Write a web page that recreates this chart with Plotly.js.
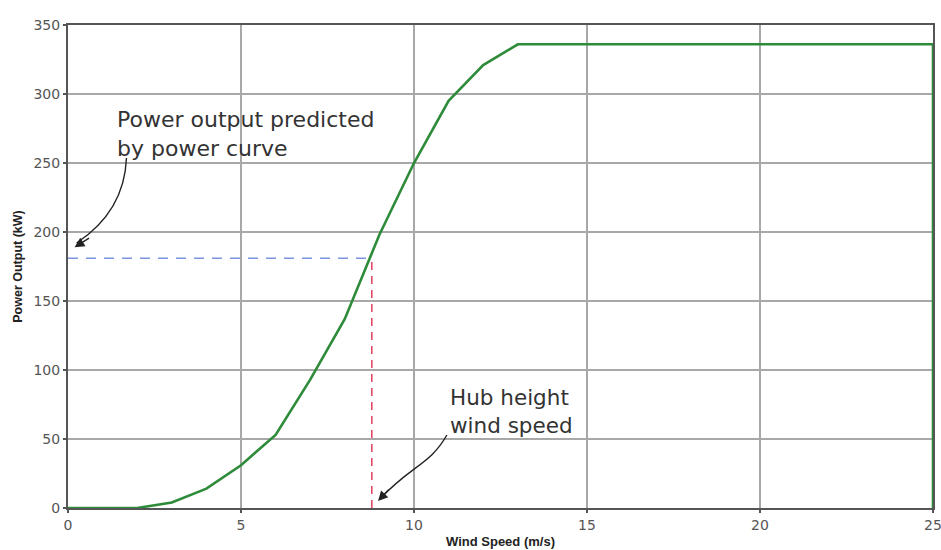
<!DOCTYPE html>
<html>
<head>
<meta charset="utf-8">
<script src="https://cdn.plot.ly/plotly-3.0.1.min.js"></script>
<style>
html,body{margin:0;padding:0;background:#fff;}
#chart{width:941px;height:550px;}
</style>
</head>
<body>
<div id="chart"></div>
<script>
// Power curve data (wind speed m/s, power kW)
var windSpeed = [0, 1, 2, 3, 4, 5, 6, 7, 8, 9, 10, 11, 12, 13, 25, 25];
var powerOutput = [0, 0, 0, 4, 14, 31, 53, 93, 137, 198, 250, 295, 321, 336, 336, 0];

// Hub height wind speed and predicted power
var hubSpeed = 8.78;
var predictedPower = 181;

var xTicks = [0, 5, 10, 15, 20, 25];
var yTicks = [0, 50, 100, 150, 200, 250, 300, 350];

var annoFont = {family: 'DejaVu Sans, Verdana, sans-serif', color: '#333'};

var traces = [
  {
    x: [0, hubSpeed], y: [predictedPower, predictedPower],
    mode: 'lines', line: {color: '#7b93e0', width: 1.6, dash: '10px,8px'},
    hoverinfo: 'skip', showlegend: false
  },
  {
    x: [hubSpeed, hubSpeed], y: [0, predictedPower],
    mode: 'lines', line: {color: '#e34a6a', width: 1.6, dash: '8px,6px'},
    hoverinfo: 'skip', showlegend: false
  },
  {
    x: windSpeed, y: powerOutput,
    mode: 'lines', line: {color: '#2e8b3a', width: 2.6},
    showlegend: false
  }
];

var layout = {
  width: 941, height: 550,
  margin: {l: 68, r: 8, t: 25, b: 42},
  paper_bgcolor: '#fff', plot_bgcolor: '#fff',
  showlegend: false,
  xaxis: {
    range: [0, 25], tickvals: xTicks, ticktext: xTicks.map(String),
    ticklabeloverflow: 'allow',
    showgrid: true, gridcolor: '#a8a8a8', gridwidth: 1.5,
    zeroline: false, showline: true, linecolor: '#555', linewidth: 2, mirror: true,
    ticks: 'outside', ticklen: 3, tickcolor: '#555', tickwidth: 2,
    tickfont: {family: 'DejaVu Sans, Verdana, sans-serif', size: 14, color: '#555'},
    title: {text: 'Wind Speed (m/s)', standoff: 5,
      font: {family: 'Liberation Sans, Arial, sans-serif', size: 13, color: '#222', weight: 'bold'}}
  },
  yaxis: {
    range: [0, 350], tickvals: yTicks, ticktext: yTicks.map(String),
    showgrid: true, gridcolor: '#a8a8a8', gridwidth: 1.5,
    zeroline: false, showline: true, linecolor: '#555', linewidth: 2, mirror: true,
    ticks: 'outside', ticklen: 3, tickcolor: '#555', tickwidth: 2,
    tickfont: {family: 'DejaVu Sans, Verdana, sans-serif', size: 14, color: '#555'},
    title: {text: 'Power Output (kW)', standoff: 8,
      font: {family: 'Liberation Sans, Arial, sans-serif', size: 12.5, color: '#222', weight: 'bold'}}
  },
  shapes: [
    {type: 'path', xref: 'x', yref: 'y',
     path: 'M 1.69,253.6 Q 1.63,215 0.25,192',
     line: {color: '#222', width: 1.4}},
    {type: 'path', xref: 'x', yref: 'y',
     path: 'M 10.95,52.9 C 10.46,31.2 9.94,31.2 9.03,7',
     line: {color: '#222', width: 1.4}}
  ],
  annotations: [
    {x: 1.345, y: 271, xref: 'x', yref: 'y', xanchor: 'left', yanchor: 'middle', align: 'left',
     text: 'Power output predicted<br>by power curve', showarrow: false,
     font: Object.assign({size: 22}, annoFont)},
    {x: 10.98, y: 70, xref: 'x', yref: 'y', xanchor: 'left', yanchor: 'middle', align: 'left',
     text: 'Hub height<br>wind speed', showarrow: false,
     font: Object.assign({size: 21.5}, annoFont)},
    {x: 0.19, y: 189, xref: 'x', yref: 'y', text: '', showarrow: true,
     ax: 16, ay: -10, arrowhead: 2, arrowsize: 1.4, arrowwidth: 1.4, arrowcolor: '#222', standoff: 0},
    {x: 8.96, y: 5, xref: 'x', yref: 'y', text: '', showarrow: true,
     ax: 12, ay: -13, arrowhead: 2, arrowsize: 1.4, arrowwidth: 1.4, arrowcolor: '#222', standoff: 0}
  ]
};

Plotly.newPlot('chart', traces, layout, {displayModeBar: false, staticPlot: true});
</script>
</body>
</html>
